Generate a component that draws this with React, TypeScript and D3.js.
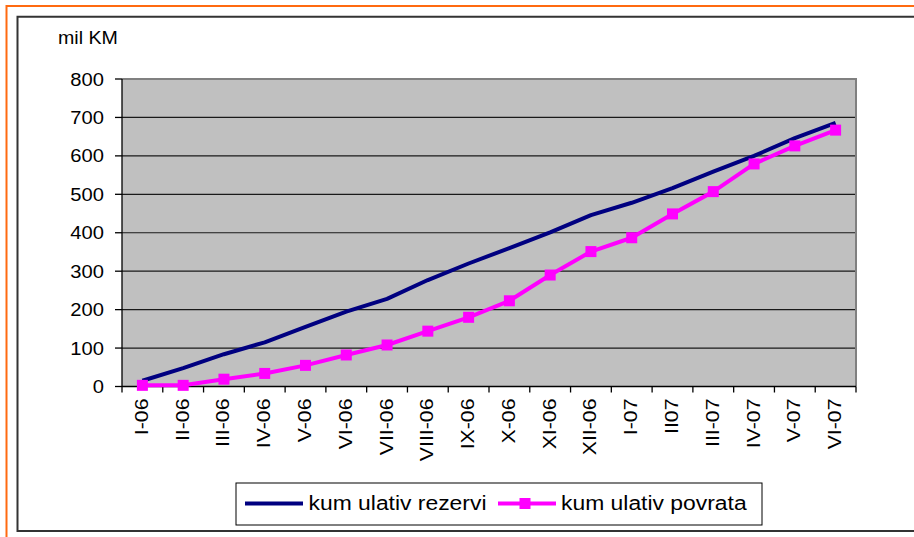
import React from "react";
import * as d3 from "d3";

const months = [
  "I-06", "II-06", "III-06", "IV-06", "V-06", "VI-06", "VII-06", "VIII-06", "IX-06",
  "X-06", "XI-06", "XII-06", "I-07", "II07", "III-07", "IV-07", "V-07", "VI-07",
];
const rezervi = [15, 48, 84, 115, 155, 195, 228, 277, 320, 360, 401, 446, 478, 516, 559, 600, 646, 686];
const povrata = [3, 3, 19, 34, 55, 82, 108, 144, 180, 223, 290, 351, 387, 449, 507, 579, 626, 667];
const yTicks = [0, 100, 200, 300, 400, 500, 600, 700, 800];
const seriesNames = ["kum ulativ rezervi", "kum ulativ povrata"];

const W = 914;
const H = 537;
const plot = { left: 122, right: 856, top: 79, bottom: 386.5 };
const FONT = "'Liberation Sans', Arial, sans-serif";
const BLUE = "#000080";
const PINK = "#FF00FF";

const App = () => {
  const x = d3.scaleBand<string>().domain(months).range([plot.left, plot.right]).padding(0);
  const y = d3.scaleLinear().domain([0, 800]).range([plot.bottom, plot.top]);
  const cx = (m: string) => (x(m) as number) + x.bandwidth() / 2;

  const line = d3
    .line<number>()
    .x((_, i) => cx(months[i]))
    .y((d) => y(d));

  // category boundaries for x ticks
  const bounds = months.map((m) => x(m) as number).concat([plot.right]);

  return (
    <svg
      width={W}
      height={H}
      style={{ position: "absolute", left: 0, top: 0, background: "#fff" }}
      fontFamily={FONT}
    >
      {/* outer frames */}
      <path d={`M6.5,${H} V6 H${W}`} fill="none" stroke="#FF6A10" strokeWidth={2} />
      <path d={`M${W},16.7 H17.5 V531 H${W}`} fill="none" stroke="#333" strokeWidth={2} />

      <text transform="translate(58,44) scale(1.09,1)" fontSize={18} fill="#000">
        mil KM
      </text>

      {/* plot area */}
      <rect
        x={plot.left}
        y={plot.top}
        width={plot.right - plot.left}
        height={plot.bottom - plot.top}
        fill="#C0C0C0"
      />
      {yTicks.slice(1, -1).map((t) => (
        <line key={t} x1={plot.left} x2={plot.right} y1={y(t)} y2={y(t)} stroke="#1a1a1a" strokeWidth={1.2} />
      ))}
      <path
        d={`M${plot.left},${plot.top} H${plot.right} V${plot.bottom}`}
        fill="none"
        stroke="#808080"
        strokeWidth={2}
      />

      {/* y axis */}
      <line x1={plot.left} x2={plot.left} y1={plot.top} y2={plot.bottom} stroke="#000" strokeWidth={1.3} />
      {yTicks.map((t) => (
        <g key={t}>
          <line x1={115} x2={plot.left} y1={y(t)} y2={y(t)} stroke="#000" strokeWidth={1.3} />
          <text
            transform={`translate(104,${y(t) + 6.5}) scale(1.12,1)`}
            textAnchor="end"
            fontSize={18}
            fill="#000"
          >
            {t}
          </text>
        </g>
      ))}

      {/* x axis */}
      <line x1={plot.left} x2={plot.right} y1={plot.bottom} y2={plot.bottom} stroke="#000" strokeWidth={1.3} />
      {bounds.map((b, i) => (
        <line key={i} x1={b} x2={b} y1={plot.bottom} y2={plot.bottom + 6} stroke="#000" strokeWidth={1.3} />
      ))}
      {months.map((m) => (
        <text
          key={m}
          transform={`translate(${cx(m) + 5.5},398.5) rotate(-90) scale(1.12,1)`}
          textAnchor="end"
          fontSize={19}
          fill="#000"
        >
          {m}
        </text>
      ))}

      {/* series */}
      <path d={line(rezervi) || ""} fill="none" stroke={BLUE} strokeWidth={4} strokeLinejoin="round" />
      <path d={line(povrata) || ""} fill="none" stroke={PINK} strokeWidth={4} strokeLinejoin="round" />
      {povrata.map((v, i) => (
        <rect key={i} x={cx(months[i]) - 5.5} y={y(v) - 5.5} width={11} height={11} fill={PINK} />
      ))}

      {/* legend */}
      <rect x={236} y={483} width={526} height={42} fill="#fff" stroke="#000" strokeWidth={1} />
      <line x1={245} x2={303} y1={503.5} y2={503.5} stroke={BLUE} strokeWidth={4} />
      <text transform="translate(308.5,510) scale(1.09,1)" fontSize={21} fill="#000">
        {seriesNames[0]}
      </text>
      <line x1={498} x2={556} y1={503.5} y2={503.5} stroke={PINK} strokeWidth={4} />
      <rect x={519.5} y={498} width={11} height={11} fill={PINK} />
      <text transform="translate(561,510) scale(1.09,1)" fontSize={21} fill="#000">
        {seriesNames[1]}
      </text>
    </svg>
  );
};

export default App;
